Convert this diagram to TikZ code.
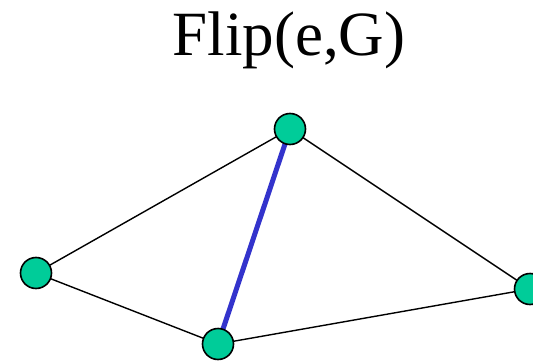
\documentclass[tikz,border=0pt]{standalone}
\usepackage{fontspec}
\setmainfont{Liberation Serif}
\definecolor{vgreen}{HTML}{00CC99}
\definecolor{eblue}{HTML}{3333CC}
\begin{document}
\begin{tikzpicture}[x=1pt,y=1pt,
  vert/.style={circle,draw=black,fill=vgreen,line width=1.6pt,minimum size=31pt,inner sep=0pt},
  edge/.style={draw=black,line width=1.4pt},
  flipedge/.style={draw=eblue,line width=5pt}]
\clip (0,0) rectangle (533,360);
\fill[white] (0,0) rectangle (533,360);
\node[font=\fontsize{63}{70}\selectfont,anchor=base] (title) at (289,305) {Flip(e,G)};
\coordinate (t) at (290,231);
\coordinate (l) at (36,87);
\coordinate (b) at (218,16);
\coordinate (r) at (530,71);
\draw[edge] (t) -- (l);
\draw[edge] (l) -- (b);
\draw[edge] (b) -- (r);
\draw[edge] (t) -- (r);
\draw[flipedge] (t) -- (b);
\node[vert] (T) at (t) {};
\node[vert] (L) at (l) {};
\node[vert] (B) at (b) {};
\node[vert] (R) at (r) {};
\end{tikzpicture}
\end{document}
